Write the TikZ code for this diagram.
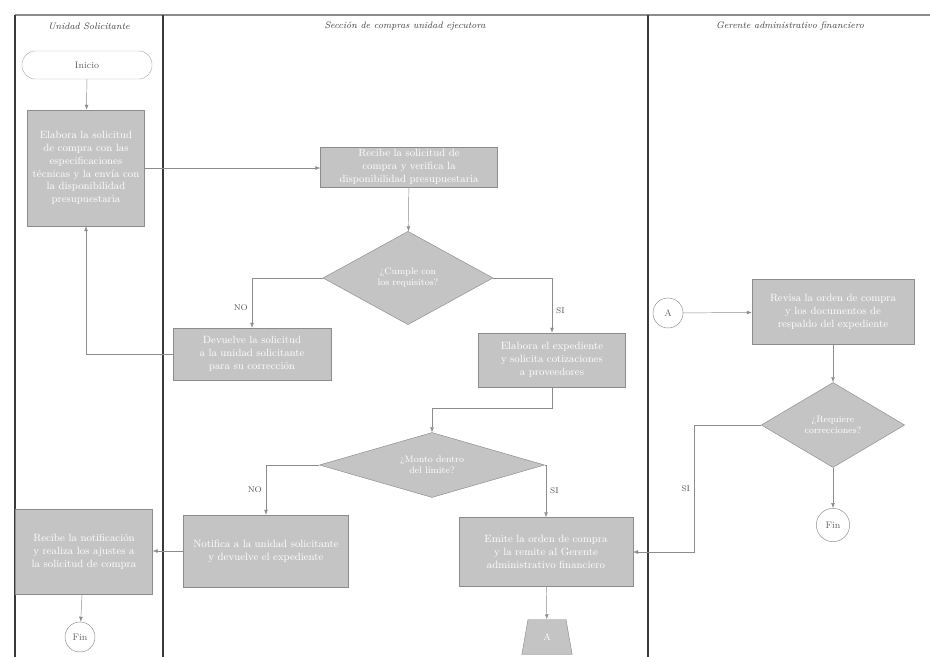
\documentclass[tikz,border=0pt]{standalone}
\usepackage{tikz}
\usetikzlibrary{arrows.meta,positioning,shapes.geometric}
\definecolor{pgray}{HTML}{C4C4C4}
\definecolor{pline}{HTML}{8C8C8C}
\definecolor{plane}{HTML}{3A3A3A}
\hyphenpenalty=10000
\exhyphenpenalty=10000

\begin{document}
\begin{tikzpicture}[x=0.3mm,y=-0.3mm, every node/.style={font=\footnotesize,align=center}, box/.style={draw=pline,fill=pgray,text=white,inner sep=1.5pt,font=\small}, dec/.style={diamond,draw=pline,fill=pgray,text=white,inner sep=0pt,aspect=2}, conn/.style={circle,draw=pline,fill=white,text=black!60,inner sep=0pt}, arr/.style={-{Latex[length=1.5mm]},pline}, lbl/.style={font=\scriptsize,text=black!70}, lane/.style={draw=plane,line width=1.4pt}, head/.style={font=\footnotesize\itshape,text=black!75}]
\useasboundingbox (0,0) rectangle (930,657);
% swimlanes
\draw[lane,draw=black!45,line width=1pt] (15,15) -- (930,15);
\draw[lane] (15,15) -- (15,657); \draw[lane] (163,15) -- (163,657); \draw[lane] (648,15) -- (648,657);
\node[head] (h1) at (89,26) {Unidad Solicitante};
\node[head] (h2) at (405,26) {Sección de compras unidad ejecutora};
\node[head] (h3) at (790,26) {Gerente administrativo financiero};
% unidad solicitante
\node[draw=black!30,rounded corners=4mm,minimum width=39mm,minimum height=8.4mm,text=black!60] (start) at (87,65) {Inicio};
\node[box,text width=34mm,minimum height=34.8mm] (solic) at (86,168) {Elabora la solicitud de compra con las especificaciones técnicas y la envía con la disponibilidad presupuestaria};
\node[box,text width=40mm,minimum height=25.5mm] (ajuste) at (84,552) {Recibe la notificación y realiza los ajustes a la solicitud de compra};
\node[conn,minimum size=9mm] (fin1) at (80,637) {Fin};
% seccion de compras
\node[box,text width=52mm,minimum height=12mm] (recibe) at (409,167) {Recibe la solicitud de compra y verifica la disponibilidad presupuestaria};
\node[dec,text width=22mm,minimum width=51mm,minimum height=28mm] (cumple) at (408,278) {¿Cumple con los requisitos?};
\node[box,text width=46.5mm,minimum height=15.6mm] (devuelve) at (252,354) {Devuelve la solicitud a la unidad solicitante para su corrección};
\node[box,text width=43mm,minimum height=16.2mm] (cotiza) at (552,360) {Elabora el expediente y solicita cotizaciones a proveedores};
\node[dec,text width=30mm,minimum width=67.5mm,minimum height=19.5mm,aspect=3] (monto) at (432,465) {¿Monto dentro del límite?};
\node[box,text width=48.5mm,minimum height=21.6mm] (notifica) at (266,551) {Notifica a la unidad solicitante y devuelve el expediente};
\node[box,text width=51mm,minimum height=20.7mm] (orden) at (546,552) {Emite la orden de compra y la remite al Gerente administrativo financiero};
\node[trapezium,trapezium angle=80,draw=pline,fill=pgray,text=white,minimum width=4mm,minimum height=10.5mm,inner sep=1pt] (pag) at (547,637) {A};
% gerente administrativo financiero
\node[conn,minimum size=9mm] (cona) at (668,313) {A};
\node[box,text width=47.5mm,minimum height=19.5mm] (revisa) at (833,312) {Revisa la orden de compra y los documentos de respaldo del expediente};
\node[dec,text width=20mm,minimum width=43mm,minimum height=25.5mm] (correc) at (833,425) {¿Requiere correcciones?};
\node[conn,minimum size=10mm] (fin2) at (833,525) {Fin};
% connectors
\draw[arr] (start) -- (solic);
\draw[arr] (solic.east) -- (solic.east -| recibe.west);
\draw[arr] (recibe) -- (cumple);
\draw[arr] (cumple.west) -| node[lbl,pos=0.8,left]{NO} (devuelve.north);
\draw[arr] (cumple.east) -| node[lbl,pos=0.8,right]{SI} (cotiza.north);
\draw[arr] (devuelve.west) -| (solic.south);
\draw[arr] (cotiza.south) -- ++(0,21) -| (monto.north);
\draw[arr] (monto.west) -| node[lbl,pos=0.75,left]{NO} (notifica.north);
\draw[arr] (monto.east) -| node[lbl,pos=0.75,right]{SI} (orden.north);
\draw[arr] (notifica.west) -- (notifica.west -| ajuste.east);
\draw[arr] (ajuste) -- (fin1);
\draw[arr] (orden) -- (pag);
\draw[arr] (cona) -- (revisa);
\draw[arr] (revisa) -- (correc);
\draw[arr] (correc) -- (fin2);
\draw[arr] (correc.west) -- ++(-67,0) |- node[lbl,pos=0.25,left]{SI} (orden.east);
\end{tikzpicture}
\end{document}
